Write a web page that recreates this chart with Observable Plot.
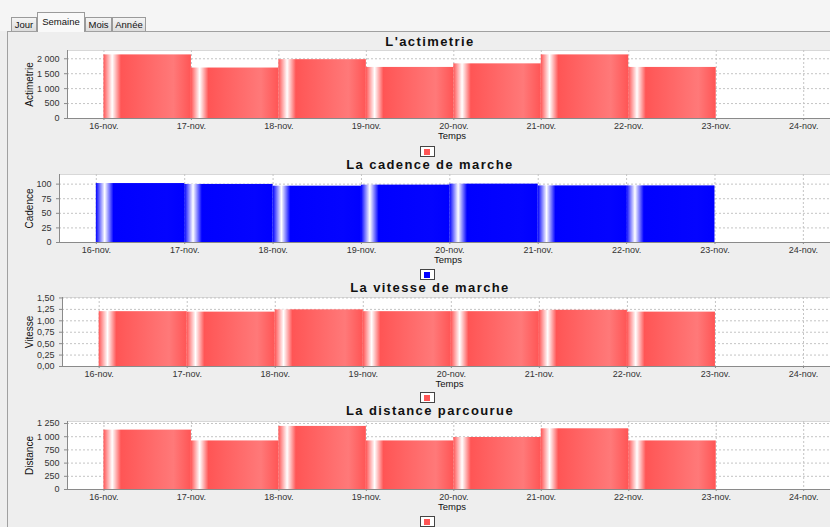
<!DOCTYPE html>
<html><head><meta charset="utf-8">
<script src="https://cdn.jsdelivr.net/npm/d3@7"></script>
<script src="https://cdn.jsdelivr.net/npm/@observablehq/plot@0.6"></script>
<style>
html,body{margin:0;padding:0;width:830px;height:527px;overflow:hidden;background:#eeeeee;font-family:"Liberation Sans",Arial,sans-serif;}
#topstrip{position:absolute;left:0;top:0;width:830px;height:31px;background:#f5f5f5;}
#panel{position:absolute;left:7px;top:31px;width:840px;height:520px;border-left:1px solid #a0a0a0;border-top:1px solid #a0a0a0;background:#eeeeee;}
.tab{position:absolute;box-sizing:border-box;border:1px solid #9a9a9a;border-bottom:none;font-size:9.5px;color:#111;text-align:center;background:linear-gradient(#f4f4f4,#dcdcdc);}
.tab.sel{background:#f9f9f9;z-index:2;}
.title{position:absolute;left:0;width:860px;text-align:center;font-weight:bold;font-size:13px;letter-spacing:1.4px;color:#111;}
.leg{position:absolute;box-sizing:border-box;width:15px;height:11px;border:1px solid #444;background:#fff;}
.leg i{position:absolute;left:3px;top:2px;width:6px;height:6px;}
.chart{position:absolute;left:0;width:850px;}
.chart svg{max-width:none !important;}
</style></head>
<body>
<svg width="0" height="0" style="position:absolute">
  <defs>
    <linearGradient id="gradRed" x1="0" x2="1" y1="0" y2="0">
      <stop offset="0" stop-color="#ff5555"/>
      <stop offset="0.1" stop-color="#ffffff"/>
      <stop offset="0.2" stop-color="#ff5555"/>
      <stop offset="0.8" stop-color="#ff7979"/>
      <stop offset="1" stop-color="#ff5555"/>
    </linearGradient>
    <linearGradient id="gradBlue" x1="0" x2="1" y1="0" y2="0">
      <stop offset="0" stop-color="#0000ff"/>
      <stop offset="0.1" stop-color="#ffffff"/>
      <stop offset="0.2" stop-color="#0000ff"/>
      <stop offset="0.8" stop-color="#0404ff"/>
      <stop offset="1" stop-color="#0000ff"/>
    </linearGradient>
  </defs>
</svg>
<div id="topstrip"></div>
<div id="panel"></div>
<div class="tab" style="left:11px;top:17px;width:26px;height:14px;line-height:14px;">Jour</div>
<div class="tab sel" style="left:37px;top:12px;width:48px;height:20px;line-height:18px;">Semaine</div>
<div class="tab" style="left:85px;top:17px;width:27px;height:14px;line-height:14px;">Mois</div>
<div class="tab" style="left:112px;top:17px;width:34px;height:14px;line-height:14px;">Année</div>
<div id="root"></div>
<script>
// ---- data ----
const days = ["2016-11-16","2016-11-17","2016-11-18","2016-11-19","2016-11-20","2016-11-21","2016-11-22"];
const tickDays = ["2016-11-16","2016-11-17","2016-11-18","2016-11-19","2016-11-20","2016-11-21","2016-11-22","2016-11-23","2016-11-24"];
const tickLabels = ["16-nov.","17-nov.","18-nov.","19-nov.","20-nov.","21-nov.","22-nov.","23-nov.","24-nov."];
const actimetrie = [2130, 1690, 1970, 1710, 1830, 2130, 1710];
const cadence = [101, 99.5, 96.5, 98.3, 100, 97, 97];
const vitesse = [1.20, 1.19, 1.24, 1.20, 1.20, 1.23, 1.19];
const distance = [1125, 920, 1195, 920, 985, 1150, 920];
const titles = ["L'actimetrie","La cadence de marche","La vitesse de marche","La distance parcourue"];
const yLabels = ["Actimetrie","Cadence","Vitesse","Distance"];
const xLabel = "Temps";
const yTicksActi = [0,500,1000,1500,2000];
const yTicksCad = [0,25,50,75,100];
const yTicksVit = [0,0.25,0.5,0.75,1,1.25,1.5];
const yTicksDist = [0,250,500,750,1000,1250];
const yMaxes = [2277, 116.5, 1.51, 1288];

// ---- setup ----
const fr = d3.formatLocale({decimal:",", thousands:" ", grouping:[3], currency:[""," €"]});
const fmtInt = fr.format(",.0f");
const fmt2 = fr.format(".2f");
const tickDates = tickDays.map(d => new Date(d));
const xStart = d3.utcHour.offset(new Date("2016-11-16"), -9.6);
const xEnd = d3.utcHour.offset(new Date("2016-11-24"), 9.6);
const tickText = d => tickLabels[tickDates.findIndex(t => +t === +d)];

const configs = [
  {values: actimetrie, yTicks: yTicksActi, fmt: fmtInt, fill:"url(#gradRed)", color:"#ff5555", left:67, plotTop:50, plotH:68, titleY:42, legY:151},
  {values: cadence, yTicks: yTicksCad, fmt: fmtInt, fill:"url(#gradBlue)", color:"#0000ff", left:59, plotTop:174, plotH:68, titleY:165, legY:274},
  {values: vitesse, yTicks: yTicksVit, fmt: fmt2, fill:"url(#gradRed)", color:"#ff5555", left:62, plotTop:297, plotH:69, titleY:288, legY:397},
  {values: distance, yTicks: yTicksDist, fmt: fmtInt, fill:"url(#gradRed)", color:"#ff5555", left:67, plotTop:421, plotH:68, titleY:411, legY:521}
];

const root = document.getElementById("root");
configs.forEach((cfg, k) => {
  const data = days.map((d, i) => ({x1: new Date(d), x2: d3.utcDay.offset(new Date(d), 1), y: cfg.values[i]}));
  const mt = 4, mb = 24;
  const p = Plot.plot({
    width: 850,
    height: mt + cfg.plotH + mb,
    marginLeft: cfg.left, marginRight: 14, marginTop: mt, marginBottom: mb,
    style: {background: "transparent", fontFamily: "'Liberation Sans', Arial, sans-serif", fontSize: "9px", color: "#333", overflow: "visible", maxWidth: "none"},
    x: {type: "utc", domain: [xStart, xEnd], axis: null},
    y: {domain: [0, yMaxes[k]], axis: null},
    marks: [
      Plot.frame({fill: "white", stroke: "#d8d8d8"}),
      Plot.gridX(tickDates, {stroke: "#c4c4c4", strokeOpacity: 1, strokeDasharray: "2,2"}),
      Plot.gridY(cfg.yTicks, {stroke: "#c4c4c4", strokeOpacity: 1, strokeDasharray: "2,2"}),
      Plot.rectY(data, {x1: "x1", x2: "x2", y: "y", fill: cfg.fill}),
      Plot.ruleY([0], {stroke: "#8a8a8a"}),
      Plot.ruleX([xStart], {stroke: "#8a8a8a"}),
      Plot.axisX(tickDates, {tickFormat: tickText, tickSize: 2, tickPadding: 2, label: null, fontSize: 9, stroke: "#8a8a8a", fill: "#333"}),
      Plot.axisY(cfg.yTicks, {tickFormat: cfg.fmt, tickSize: 3, tickPadding: 5, label: null, fontSize: 9, stroke: "#8a8a8a", fill: "#333"}),
      Plot.text([yLabels[k]], {text: d => d, frameAnchor: "left", textAnchor: "middle", dx: 29 - cfg.left, rotate: -90, fontSize: 10, fontFamily: "'Liberation Sans Narrow', 'Liberation Sans', sans-serif", fill: "#111", style: "letter-spacing:-0.3px"}),
      Plot.text([xLabel], {text: d => d, frameAnchor: "bottom", dy: 17, lineAnchor: "middle", fontSize: 9.5, fill: "#111"})
    ]
  });
  const wrap = document.createElement("div");
  wrap.className = "chart";
  wrap.style.top = (cfg.plotTop - mt) + "px";
  wrap.appendChild(p);
  root.appendChild(wrap);

  const t = document.createElement("div");
  t.className = "title";
  t.style.top = (cfg.titleY - 8) + "px";
  t.textContent = titles[k];
  root.appendChild(t);

  const lg = document.createElement("div");
  lg.className = "leg";
  lg.style.left = "420px";
  lg.style.top = (cfg.legY - 5) + "px";
  const sq = document.createElement("i");
  sq.style.background = cfg.color;
  lg.appendChild(sq);
  root.appendChild(lg);
});
</script>
</body></html>
